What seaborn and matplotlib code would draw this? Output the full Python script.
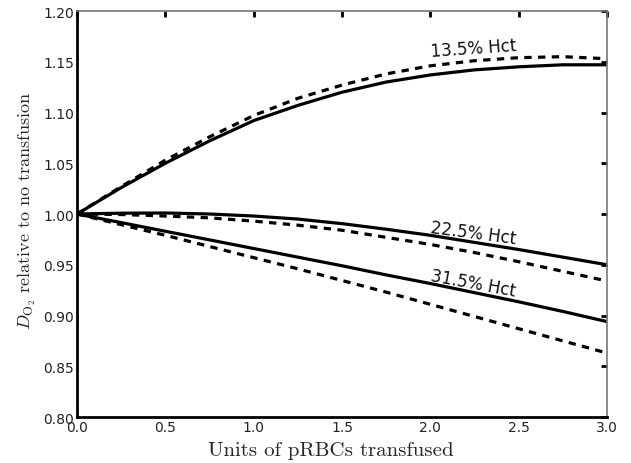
import numpy as np
import pandas as pd
import matplotlib
matplotlib.use("Agg")
import matplotlib.pyplot as plt
import seaborn as sns

units = [0.0, 0.25, 0.5, 0.75, 1.0, 1.25, 1.5, 1.75, 2.0, 2.25, 2.5, 2.75, 3.0]

hct135_solid = [1.000, 1.026, 1.050, 1.072, 1.092, 1.107, 1.120, 1.130, 1.137, 1.142, 1.145, 1.147, 1.147]
hct135_dash = [1.000, 1.027, 1.053, 1.076, 1.097, 1.114, 1.127, 1.138, 1.146, 1.151, 1.154, 1.155, 1.153]
hct225_solid = [1.000, 1.0008, 1.001, 1.000, 0.998, 0.995, 0.9905, 0.985, 0.979, 0.972, 0.965, 0.9575, 0.950]
hct225_dash = [1.000, 0.9995, 0.998, 0.9962, 0.993, 0.989, 0.984, 0.977, 0.970, 0.962, 0.953, 0.9435, 0.934]
hct315_solid = [1.000, 0.9915, 0.983, 0.9745, 0.966, 0.9575, 0.949, 0.940, 0.9315, 0.9225, 0.9135, 0.904, 0.894]
hct315_dash = [1.000, 0.9895, 0.979, 0.968, 0.957, 0.946, 0.9345, 0.923, 0.911, 0.899, 0.887, 0.875, 0.863]

labels = ["13.5% Hct", "22.5% Hct", "31.5% Hct"]
label_pos = [(2.247, 1.1635, 4), (2.241, 0.9813, -7.5), (2.241, 0.932, -10.5)]

xticks = [0.0, 0.5, 1.0, 1.5, 2.0, 2.5, 3.0]
yticks = [0.80, 0.85, 0.90, 0.95, 1.00, 1.05, 1.10, 1.15, 1.20]

sns.set_style("white")
plt.rcParams["font.family"] = ["DejaVu Sans"]
plt.rcParams["mathtext.fontset"] = "cm"

fig = plt.figure(figsize=(6.31, 4.64), dpi=100)
ax = fig.add_axes([77 / 631, 46 / 464, 530 / 631, 406 / 464])

lw = 2.3
dash = (0, (2.3, 2.0))
for solid, dashed in [(hct135_solid, hct135_dash), (hct225_solid, hct225_dash), (hct315_solid, hct315_dash)]:
    sns.lineplot(x=units, y=solid, ax=ax, color="black", linewidth=lw, linestyle="-")
    sns.lineplot(x=units, y=dashed, ax=ax, color="black", linewidth=lw, linestyle=dash)

for text, (xx, yy, rot) in zip(labels, label_pos):
    ax.text(xx, yy, text, fontsize=12, rotation=rot, ha="center", va="center",
            rotation_mode="anchor", color="#111111")

ax.set_xlim(0, 3.0)
ax.set_ylim(0.80, 1.20)
ax.set_xticks(xticks)
ax.set_yticks(yticks)
ax.set_xticklabels([f"{t:.1f}" for t in xticks])
ax.set_yticklabels([f"{t:.2f}" for t in yticks])

ax.tick_params(direction="in", length=4, width=2, labelsize=10, pad=2,
               top=True, right=True, colors="black")
ax.tick_params(axis="both", which="major", labelcolor="#222222")

for side in ["left", "bottom"]:
    ax.spines[side].set_color("black")
    ax.spines[side].set_linewidth(2)
for side in ["top", "right"]:
    ax.spines[side].set_color("#777777")
    ax.spines[side].set_linewidth(1.2)

ax.set_xlabel("Units of pRBCs transfused", fontsize=15, family="cmr10")
ax.set_ylabel(r"$D_{\mathrm{O_2}}$ relative to no transfusion", fontsize=13, family="cmr10")
ax.xaxis.set_label_coords(0.479, -0.058)
ax.yaxis.set_label_coords(-0.074, 0.51)

fig.savefig("out.png", dpi=100)
